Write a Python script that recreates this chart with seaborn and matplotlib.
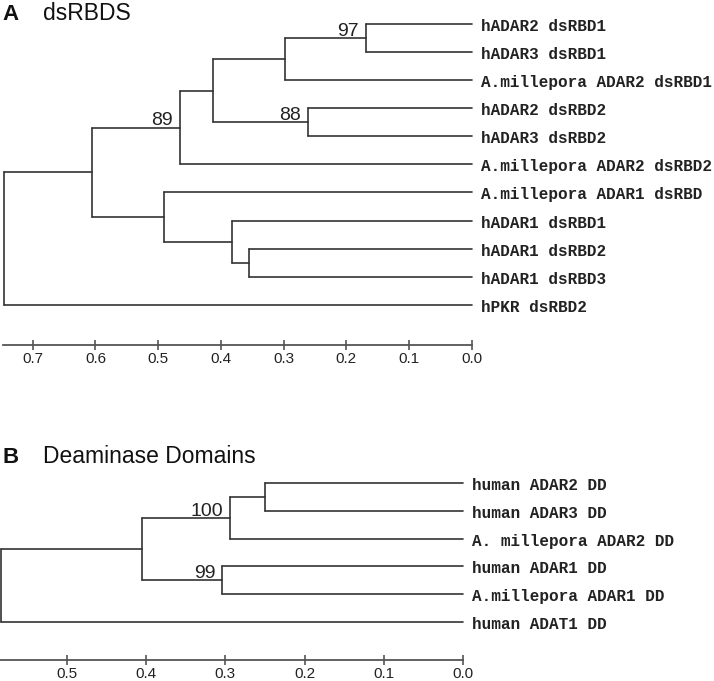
import matplotlib
matplotlib.use("Agg")
import matplotlib.pyplot as plt
import pandas as pd
import seaborn as sns

# ---- Panel A: dsRBD tree (leaves top to bottom, merges with node depth) ----
dsrbd_leaves = [
    "hADAR2 dsRBD1",
    "hADAR3 dsRBD1",
    "A.millepora ADAR2 dsRBD1",
    "hADAR2 dsRBD2",
    "hADAR3 dsRBD2",
    "A.millepora ADAR2 dsRBD2",
    "A.millepora ADAR1 dsRBD",
    "hADAR1 dsRBD1",
    "hADAR1 dsRBD2",
    "hADAR1 dsRBD3",
    "hPKR dsRBD2",
]
dsrbd_nodes = ["n1", "n2", "n3", "n4", "n5", "n6", "n7", "n8", "n9", "n10"]
dsrbd_children = [
    ("hADAR2 dsRBD1", "hADAR3 dsRBD1"),
    ("n1", "A.millepora ADAR2 dsRBD1"),
    ("hADAR2 dsRBD2", "hADAR3 dsRBD2"),
    ("n2", "n3"),
    ("n4", "A.millepora ADAR2 dsRBD2"),
    ("hADAR1 dsRBD2", "hADAR1 dsRBD3"),
    ("hADAR1 dsRBD1", "n6"),
    ("A.millepora ADAR1 dsRBD", "n7"),
    ("n5", "n8"),
    ("n9", "hPKR dsRBD2"),
]
dsrbd_heights = [0.169, 0.298, 0.261, 0.412, 0.466, 0.355, 0.382, 0.490, 0.606, 0.746]
dsrbd_support = ["97", None, "88", None, "89", None, None, None, None, None]
dsrbd_ticks = [0.7, 0.6, 0.5, 0.4, 0.3, 0.2, 0.1, 0.0]

# ---- Panel B: deaminase domain tree ----
dd_leaves = [
    "human ADAR2 DD",
    "human ADAR3 DD",
    "A. millepora ADAR2 DD",
    "human ADAR1 DD",
    "A.millepora ADAR1 DD",
    "human ADAT1 DD",
]
dd_nodes = ["m1", "m2", "m3", "m4", "m5"]
dd_children = [
    ("human ADAR2 DD", "human ADAR3 DD"),
    ("m1", "A. millepora ADAR2 DD"),
    ("human ADAR1 DD", "A.millepora ADAR1 DD"),
    ("m2", "m3"),
    ("m4", "human ADAT1 DD"),
]
dd_heights = [0.250, 0.294, 0.304, 0.405, 0.583]
dd_support = [None, "100", "99", None, None]
dd_ticks = [0.5, 0.4, 0.3, 0.2, 0.1, 0.0]

LINE = "#333333"
AXIS = "#555555"


def tree_segments(leaves, nodes, children, heights):
    """Turn merges into a long table of line segments (rectangular dendrogram)."""
    ypos = {name: float(i) for i, name in enumerate(leaves)}
    xpos = {name: 0.0 for name in leaves}
    rows = []
    seg = 0
    for node, (a, b), h in zip(nodes, children, heights):
        ypos[node] = (ypos[a] + ypos[b]) / 2
        xpos[node] = h
        # vertical joining the two children
        rows += [{"seg": seg, "x": h, "y": ypos[a]}, {"seg": seg, "x": h, "y": ypos[b]}]
        seg += 1
        # horizontal branch to each child
        for c in (a, b):
            rows += [{"seg": seg, "x": h, "y": ypos[c]}, {"seg": seg, "x": xpos[c], "y": ypos[c]}]
            seg += 1
    return pd.DataFrame(rows), xpos, ypos


def draw_tree(ax, leaves, nodes, children, heights, support, ticks, xmax, ybottom):
    df, xpos, ypos = tree_segments(leaves, nodes, children, heights)
    sns.lineplot(data=df, x="x", y="y", units="seg", estimator=None, sort=False,
                 color=LINE, lw=1.2, ax=ax, legend=False)
    for line in ax.lines:
        line.set_clip_on(False)

    for name in leaves:
        ax.annotate(name, (0.0, ypos[name]), xytext=(6.5, -1.8), textcoords="offset points",
                    ha="left", va="center", fontsize=11.5, fontweight="bold",
                    family="Liberation Mono", color="#222222", annotation_clip=False)
    for node, s in zip(nodes, support):
        if s:
            ax.annotate(s, (xpos[node], ypos[node]), xytext=(-5, 1.5), textcoords="offset points",
                        ha="right", va="baseline", fontsize=14, color="#222222")

    ax.set_xlim(xmax, 0)
    ax.set_ylim(ybottom, -0.5)
    ax.set_xticks(ticks)
    ax.set_xticklabels([f"{t:.1f}" for t in ticks])
    ax.set_yticks([])
    ax.set_xlabel("")
    ax.set_ylabel("")
    sns.despine(ax=ax, left=True)
    ax.spines["bottom"].set_color(AXIS)
    ax.spines["bottom"].set_linewidth(1.3)
    ax.tick_params(axis="x", bottom=True, direction="inout", length=7, width=1.2, color=AXIS,
                   labelsize=11, labelcolor="#222222", pad=1.5)


def main():
    sns.set_style("white")
    plt.rcParams["font.family"] = ["Liberation Sans", "DejaVu Sans"]

    W, H = 714, 681
    fig = plt.figure(figsize=(W / 100, H / 100), dpi=100)

    # panel A: x=0 at 471.7px, 0.1 per 62.7px; rows from 24px, 28.07px apart; axis at 344.7px
    ax_a = fig.add_axes([2.7 / W, (H - 344.7) / H, 469.0 / W, (344.7 - 10.0) / H])
    draw_tree(ax_a, dsrbd_leaves, dsrbd_nodes, dsrbd_children, dsrbd_heights,
              dsrbd_support, dsrbd_ticks, xmax=0.748, ybottom=10 + 40.0 / 28.07)

    # panel B: x=0 at 463.3px, 0.1 per 79.3px; rows from 483px, 27.8px apart; axis at 660.3px
    ax_b = fig.add_axes([0.0, (H - 660.3) / H, 463.3 / W, (660.3 - 469.1) / H])
    draw_tree(ax_b, dd_leaves, dd_nodes, dd_children, dd_heights,
              dd_support, dd_ticks, xmax=0.584, ybottom=5 + 38.3 / 27.8)

    fig.text(2.7 / W, 1 - 20.0 / H, "A", fontsize=16, fontweight="bold", va="baseline", color="#111111")
    fig.text(42.7 / W, 1 - 20.0 / H, "dsRBDS", fontsize=16.5, va="baseline", color="#111111")
    fig.text(2.7 / W, 1 - 463.3 / H, "B", fontsize=16, fontweight="bold", va="baseline", color="#111111")
    fig.text(42.7 / W, 1 - 463.3 / H, "Deaminase Domains", fontsize=16.5, va="baseline", color="#111111")

    fig.savefig("out.png", dpi=100)
    plt.close(fig)


if __name__ == "__main__":
    main()
